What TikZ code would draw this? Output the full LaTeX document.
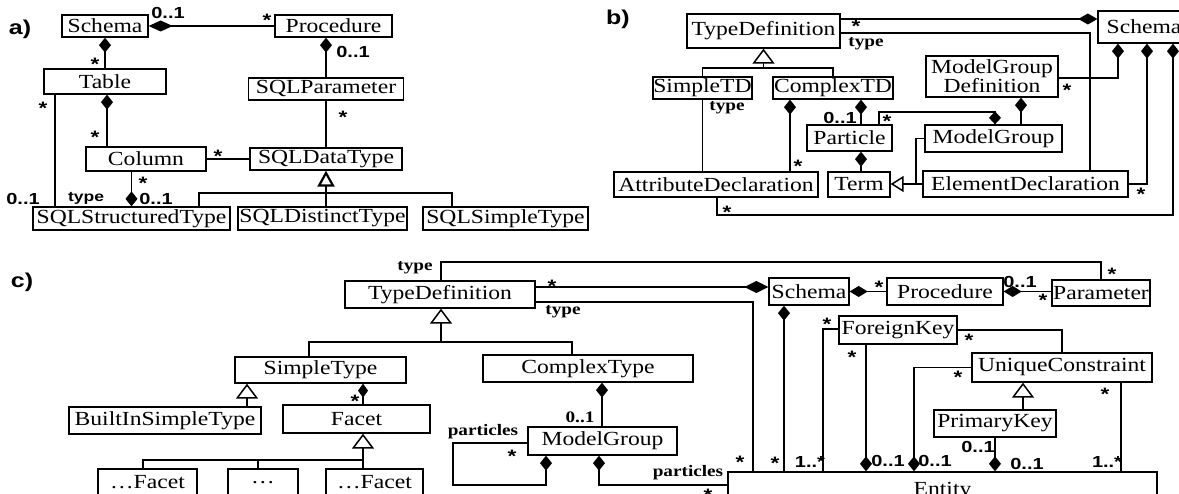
\documentclass[tikz,border=0pt]{standalone}
\usepackage{fontspec}
\usetikzlibrary{arrows.meta}
\newfontfamily\bxfam{Liberation Serif}[FakeStretch=1.18]
\newfontfamily\sfam{Liberation Sans}[FakeStretch=1.25]
\newfontfamily\rfam{Liberation Serif}[FakeStretch=1.2]
\newcommand\stx{\raisebox{-0.43em}[0.29em][0pt]{*}}
\tikzset{
  box/.style={draw, line width=1.3pt, inner sep=0pt, align=center,
    font=\bxfam\fontsize{20}{19}\selectfont},
  ln/.style={line width=1.5pt},
  lnA/.style={line width=2.2pt},
  dS/.style={arrows={Diamond[length=15pt,width=12pt]-}},
  dE/.style={arrows={-Diamond[length=15pt,width=12pt]}},
  dSL/.style={arrows={Diamond[length=24pt,width=12pt]-}},
  dEL/.style={arrows={-Diamond[length=19pt,width=11pt]}},
  dEs/.style={arrows={-Diamond[length=13pt,width=12pt]}},
  gE/.style={arrows={-Triangle[open,length=15pt,width=22pt,fill=white]}},
  gEa/.style={arrows={-Triangle[open,length=16pt,width=17pt,fill=white]}},
  gEs/.style={arrows={-Triangle[open,length=13pt,width=16pt,fill=white]}},
  lbl/.style={inner sep=0pt, font=\sfam\bfseries\fontsize{16}{16}\selectfont},
  lbls/.style={inner sep=0pt, font=\sfam\bfseries\fontsize{14}{14}\selectfont},
  st/.style={inner sep=0pt, font=\sfam\bfseries\fontsize{18}{18}\selectfont},
  tl/.style={inner sep=0pt, font=\rfam\bfseries\fontsize{16}{16}\selectfont},
  pl/.style={inner sep=0pt, font=\sfam\bfseries\fontsize{20}{20}\selectfont},
}
\begin{document}
\begin{tikzpicture}[x=1pt,y=-1pt]
\useasboundingbox (0,0) rectangle (1179,494);
% panel labels
\node[pl] (pa) at (20,29) {a)};
\node[pl] (pb) at (618,19) {b)};
\node[pl] (pc) at (22,282) {c)};

% ---------------- panel a
\node[box, minimum width=86pt, minimum height=22pt] (aSchema) at (105,26) {Schema};
\node[box, minimum width=117pt, minimum height=22pt] (aProc) at (333.5,26) {Procedure};
\node[box, minimum width=122pt, minimum height=25pt] (aTable) at (105,81.5) {Table};
\node[box, minimum width=155pt, minimum height=22pt] (aParam) at (326,89) {SQLParameter};
\node[box, minimum width=120pt, minimum height=24pt] (aCol) at (146,159) {Column};
\node[box, minimum width=152pt, minimum height=22pt] (aDT) at (326,159) {SQLDataType};
\node[box, minimum width=197pt, minimum height=23pt] (aST) at (131.5,218.5) {SQLStructuredType};
\node[box, minimum width=169pt, minimum height=23pt] (aDis) at (322.5,218.5) {SQLDistinctType};
\node[box, minimum width=165pt, minimum height=23pt] (aSim) at (505.5,218.5) {SQLSimpleType};

\draw[lnA,arrows={Diamond[length=24pt,width=11pt]-}] (aSchema.east) -- (aProc.west);
\draw[lnA,dS] (aProc.south -| aParam.north) -- (aParam.north);
\draw[lnA] (aParam.south) -- (aDT.north);
\draw[lnA,dS] (aSchema.south) -- (aTable.north);
\coordinate (aX1) at (107,0);
\draw[lnA,dS] (aX1 |- aTable.south) -- (aX1 |- aCol.north);
\coordinate (aX2) at (55,0);
\draw[ln] (aX2 |- aTable.south) -- (aX2 |- aST.north);
\draw[lnA] (aCol.east) -- (aDT.west);
\draw[ln,dE] (aST.north |- aCol.south) -- (aST.north);
\draw[lnA,gEa] (aDT.south |- aDis.north) -- (aDT.south);
\coordinate (aB1) at (199,193);
\coordinate (aB2) at (452,193);
\draw[lnA] (aB1 |- aST.north) -- (aB1) -- (aB2) -- (aB2 |- aSim.north);

\node[lbl] (la1) at (168,13) {0..1};
\node[st] (la2) at (267,16) {\stx};
\node[st] (la3) at (95,60) {\stx};
\node[st] (la4) at (43,104) {\stx};
\node[st] (la5) at (95,133) {\stx};
\node[st] (la6) at (218,152) {\stx};
\node[st] (la7) at (343,113) {\stx};
\node[lbl] (la8) at (353,52) {0..1};
\node[st] (la9) at (143,179) {\stx};
\node[lbl] (la10) at (23,199) {0..1};
\node[lbls] (la11) at (86,198) {type};
\node[lbl] (la12) at (156,199) {0..1};

% ---------------- panel b
\node[box, minimum width=153pt, minimum height=34pt] (bTD) at (763.5,31) {TypeDefinition};
\node[box, minimum width=92pt, minimum height=32pt] (bSchema) at (1144,27) {Schema};
\node[box, minimum width=99pt, minimum height=22pt] (bSimple) at (702.5,88) {SimpleTD};
\node[box, minimum width=120pt, minimum height=22pt] (bComplex) at (833,88) {ComplexTD};
\node[box, minimum width=132pt, minimum height=41pt] (bMGD) at (992,76.5) {ModelGroup\\Definition};
\node[box, minimum width=85pt, minimum height=26pt] (bParticle) at (849.5,138) {Particle};
\node[box, minimum width=137pt, minimum height=27pt] (bMG) at (993.5,138.5) {ModelGroup};
\node[box, minimum width=204pt, minimum height=25pt] (bAttr) at (716,184.5) {AttributeDeclaration};
\node[box, minimum width=62pt, minimum height=25pt] (bTerm) at (859,184.5) {Term};
\node[box, minimum width=205pt, minimum height=26pt] (bElem) at (1025.5,184) {ElementDeclaration};

\coordinate (bY1) at (0,19);
\draw[ln,dEL] (bTD.east |- bY1) -- (bSchema.west |- bY1);
\coordinate (bC1) at (1090,33);
\draw[ln] (bTD.east |- bC1) -- (bC1) -- (bC1 |- bElem.north);
\coordinate (bC2) at (1118,78);
\draw[ln,dS] (bC2 |- bSchema.south) -- (bC2) -- (bC2 -| bMGD.east);
\coordinate (bC3) at (1021,0);
\draw[ln,dS] (bC3 |- bMGD.south) -- (bC3 |- bMG.north);
\coordinate (bC4) at (1147,184);
\draw[ln,dS] (bC4 |- bSchema.south) -- (bC4) -- (bC4 -| bElem.east);
\coordinate (bC5) at (1173,215);
\coordinate (bC6) at (717,215);
\draw[ln,dS] (bC5 |- bSchema.south) -- (bC5) -- (bC6) -- (bC6 |- bAttr.south);
\coordinate (bB) at (763.5,68);
\draw[ln,gE] (bB) -- (bTD.south);
\draw[ln] (bSimple.north) |- (bB) -| (bComplex.north);
\draw[ln] (bSimple.south) -- (bSimple.south |- bAttr.north);
\coordinate (bC7) at (790,0);
\draw[ln,dS] (bC7 |- bComplex.south) -- (bC7 |- bAttr.north);
\coordinate (bC8) at (861,0);
\draw[ln,dS] (bC8 |- bComplex.south) -- (bC8 |- bParticle.north);
\coordinate (bC9) at (879,112);
\coordinate (bC10) at (995,112);
\draw[ln,dEs] (bC9 |- bParticle.north) -- (bC9) -- (bC10) -- (bC10 |- bMG.north);
\draw[ln,dS] (bC8 |- bParticle.south) -- (bC8 |- bTerm.north);
\coordinate (bC12) at (916,0);
\draw[ln,gEs] (bElem.west) -- (bElem.west -| bTerm.east);
\draw[ln] (bC12 |- bElem.west) -- (bC12 |- bMG.west) -- (bMG.west);

\node[st] (lb1) at (856,22) {\stx};
\node[tl] (lb2) at (866,44) {type};
\node[tl] (lb3) at (727,108) {type};
\node[st] (lb4) at (798,162) {\stx};
\node[lbl] (lb5) at (840,118) {0..1};
\node[st] (lb6) at (887,117) {\stx};
\node[st] (lb7) at (1067,86) {\stx};
\node[st] (lb8) at (1141,190) {\stx};
\node[st] (lb9) at (727,208) {\stx};

% ---------------- panel c
\node[box, minimum width=190pt, minimum height=27pt] (cTD) at (440,294.5) {TypeDefinition};
\node[box, minimum width=80pt, minimum height=27pt] (cSchema) at (809,291.5) {Schema};
\node[box, minimum width=116pt, minimum height=27pt] (cProc) at (945,291.5) {Procedure};
\node[box, minimum width=98pt, minimum height=26pt] (cParam) at (1101,293) {Parameter};
\node[box, minimum width=118pt, minimum height=28pt] (cFK) at (898,330) {ForeignKey};
\node[box, minimum width=180pt, minimum height=29pt] (cUC) at (1062,367.5) {UniqueConstraint};
\node[box, minimum width=122pt, minimum height=27pt] (cPK) at (995,423.5) {PrimaryKey};
\node[box, minimum width=429pt, minimum height=38pt] (cEntity) at (942.5,491) {Entity};
\node[box, minimum width=171pt, minimum height=26pt] (cSimple) at (320.5,370) {SimpleType};
\node[box, minimum width=210pt, minimum height=27pt] (cComplex) at (588,368.5) {ComplexType};
\node[box, minimum width=192pt, minimum height=27pt] (cBuiltIn) at (165,420.5) {BuiltInSimpleType};
\node[box, minimum width=147pt, minimum height=28pt] (cFacet) at (356.5,419) {Facet};
\node[box, minimum width=149pt, minimum height=28pt] (cMG) at (602.5,441) {ModelGroup};
\node[box, minimum width=99pt, minimum height=27pt] (cF1) at (147.5,482.5) {\ldots Facet};
\node[box, minimum width=70pt, minimum height=27pt] (cF2) at (263,482.5) {\ldots};
\node[box, minimum width=97pt, minimum height=27pt] (cF3) at (374.5,482.5) {\ldots Facet};

\coordinate (cC1) at (441,262);
\coordinate (cC2) at (1101,262);
\draw[ln] (cTD.north -| cC1) -- (cC1) -- (cC2) -- (cC2 |- cParam.north);
\coordinate (cC3) at (0,287);
\draw[ln,dSL] (cSchema.west |- cC3) -- (cTD.east |- cC3);
\coordinate (cC4) at (753,302);
\draw[ln] (cTD.east |- cC4) -- (cC4) -- (cC4 |- cEntity.north);
\draw[ln,arrows={Diamond[length=18pt,width=11pt]-}] (cSchema.east) -- (cProc.west);
\draw[ln,arrows={Diamond[length=18pt,width=11pt]-}] (cProc.east) -- (cProc.east -| cParam.west);
\coordinate (cC5) at (784,0);
\draw[ln,dS] (cC5 |- cSchema.south) -- (cC5 |- cEntity.north);
\coordinate (cC6) at (823,329);
\draw[ln] (cFK.west |- cC6) -- (cC6) -- (cC6 |- cEntity.north);
\coordinate (cC7) at (866,0);
\draw[ln,dE] (cC7 |- cFK.south) -- (cC7 |- cEntity.north);
\coordinate (cC8) at (1062,330);
\draw[ln] (cFK.east |- cC8) -- (cC8) -- (cUC.north);
\coordinate (cC9) at (914,0);
\draw[ln,dE] (cUC.west) -| (cC9 |- cEntity.north);
\coordinate (cC10) at (1121,0);
\draw[ln] (cC10 |- cUC.south) -- (cC10 |- cEntity.north);
\coordinate (cC11) at (1023,0);
\draw[ln,gE] (cC11 |- cPK.north) -- (cC11 |- cUC.south);
\draw[ln,dE] (cPK.south) -- (cPK.south |- cEntity.north);
\coordinate (cB) at (441,342);
\draw[ln,gE] (cB) -- (cB |- cTD.south);
\coordinate (cB1) at (309,342);
\coordinate (cB2) at (572,342);
\draw[ln] (cB1 |- cSimple.north) -- (cB1) -- (cB2) -- (cB2 |- cComplex.north);
\coordinate (cC12) at (247,0);
\draw[ln,gE] (cC12 |- cBuiltIn.north) -- (cC12 |- cSimple.south);
\coordinate (cC13) at (363,0);
\draw[ln,arrows={Diamond[length=14pt,width=10pt]-}] (cC13 |- cSimple.south) -- (cC13 |- cFacet.north);
\coordinate (cB3) at (363,460);
\coordinate (cB4) at (143,460);
\coordinate (cB5) at (258,460);
\draw[ln,gE] (cB3) -- (cB3 |- cFacet.south);
\draw[ln] (cB4 |- cF1.north) -- (cB4) -- (cB3) -- (cB3 |- cF3.north);
\draw[ln] (cB5) -- (cB5 |- cF2.north);
\coordinate (cC14) at (602,0);
\draw[ln,dS] (cC14 |- cComplex.south) -- (cC14 |- cMG.north);
\coordinate (cC15) at (453,443);
\coordinate (cC16) at (453,485);
\coordinate (cC17) at (546,485);
\draw[ln,dE] (cMG.west |- cC15) -- (cC15) -- (cC16) -- (cC17) -- (cC17 |- cMG.south);
\coordinate (cC18) at (599,485);
\draw[ln,dS] (cC18 |- cMG.south) -- (cC18) -- (cC18 -| cEntity.west);

\node[tl] (lc1) at (415,268) {type};
\node[st] (lc2) at (1112,270) {\stx};
\node[st] (lc3) at (552,282) {\stx};
\node[tl] (lc4) at (563,312) {type};
\node[st] (lc5) at (740,458) {\stx};
\node[st] (lc6) at (879,283) {\stx};
\node[lbl] (lc7) at (1020,282) {0..1};
\node[st] (lc8) at (1043,296) {\stx};
\node[st] (lc9) at (775,459) {\stx};
\node[st] (lc10) at (827,320) {\stx};
\node[lbl] (lc11) at (810,462) {1..*};
\node[st] (lc12) at (852,353) {\stx};
\node[lbl] (lc13) at (888,461) {0..1};
\node[st] (lc14) at (969,336) {\stx};
\node[st] (lc15) at (958,373) {\stx};
\node[lbl] (lc16) at (935,461) {0..1};
\node[st] (lc17) at (1105,390) {\stx};
\node[lbl] (lc18) at (1107,462) {1..*};
\node[lbl] (lc19) at (978,447) {0..1};
\node[lbl] (lc20) at (1027,464) {0..1};
\node[st] (lc21) at (355,397) {\stx};
\node[tl] (lc22) at (580,417) {0..1};
\node[tl] (lc23) at (483,432) {particles};
\node[st] (lc24) at (512,452) {\stx};
\node[tl] (lc25) at (688,473) {particles};
\node[st] (lc26) at (708,491) {\stx};
\end{tikzpicture}
\end{document}
